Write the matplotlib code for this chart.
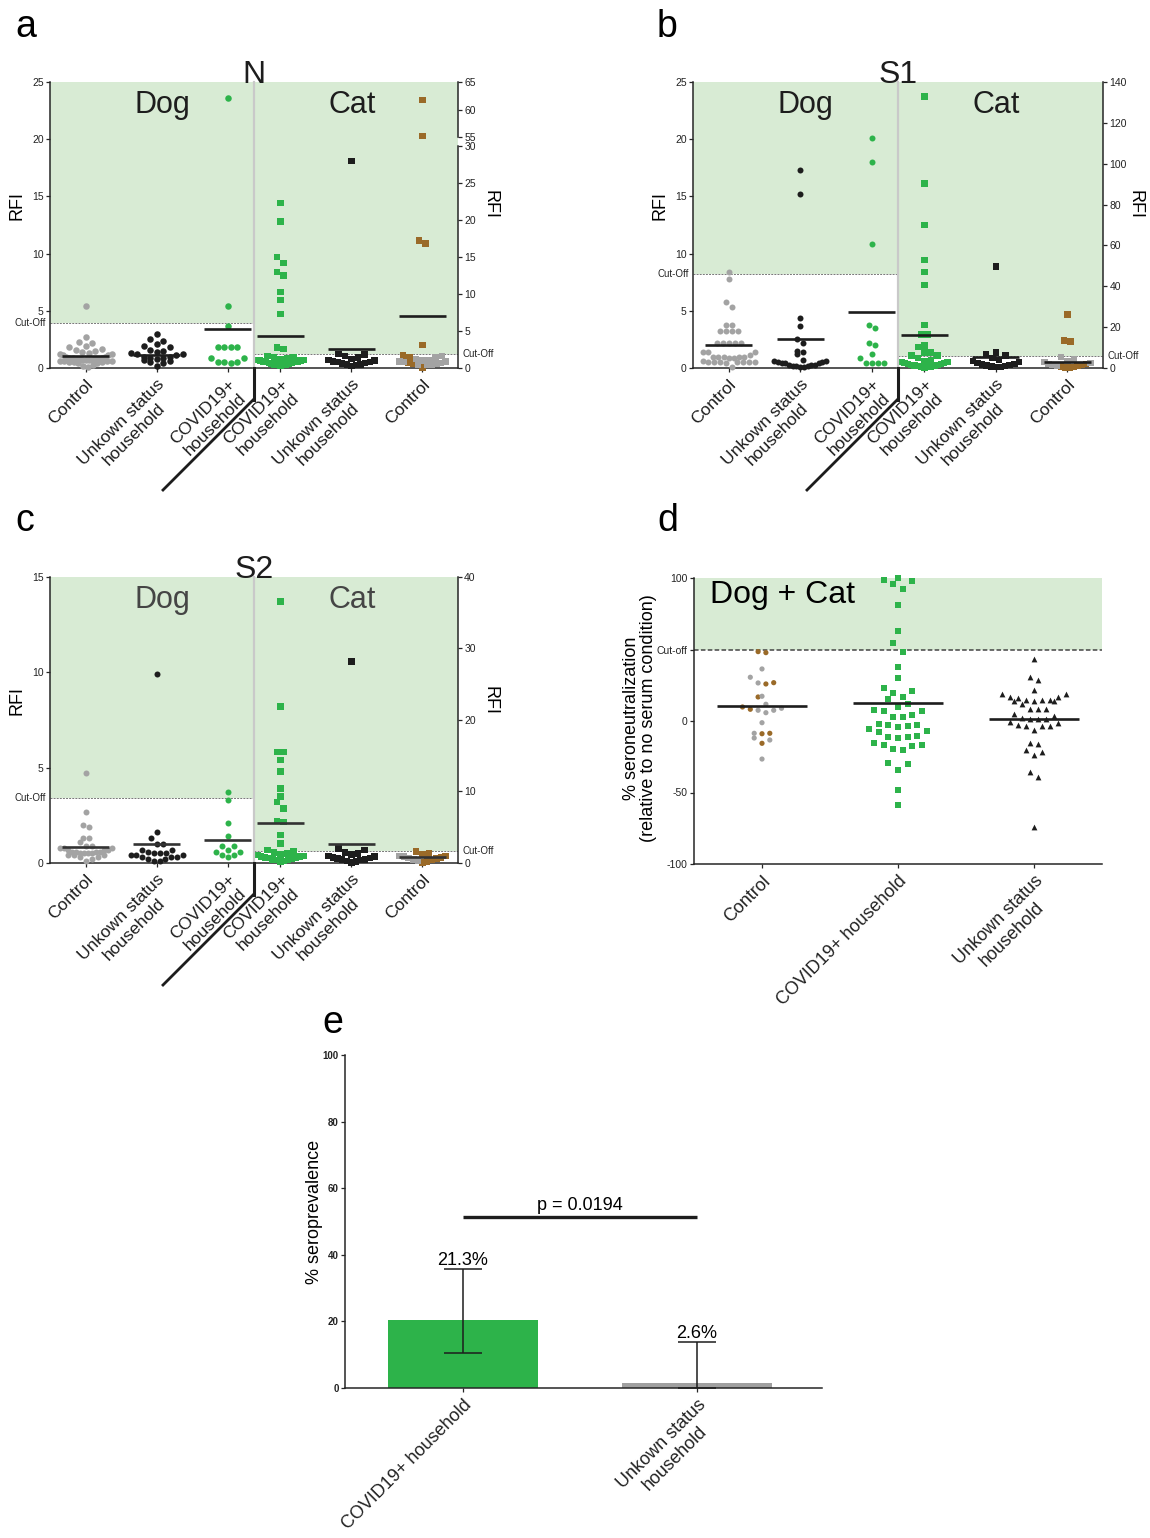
import numpy as np
import matplotlib.pyplot as plt
from matplotlib.lines import Line2D
from matplotlib.patches import Rectangle

plt.rcParams['font.family'] = ['Liberation Sans', 'DejaVu Sans']

W, H = 1150, 1538
fig = plt.figure(figsize=(W / 100, H / 100), dpi=100)

GREEN = '#2db34a'
BG = '#d8ebd4'
GRAY = '#a3a3a3'
BLACK = '#1d1d1d'
BROWN = '#9a6a28'
AXC = '#262626'

dog_labels = ['Control', 'Unkown status\nhousehold', 'COVID19+\nhousehold']
cat_labels = ['COVID19+\nhousehold', 'Unkown status\nhousehold', 'Control']

# ---- panel a : N ----
n_dog_ctrl = [5.4, 2.7, 2.3, 2.2, 1.9, 1.8, 1.7, 1.6, 1.5, 1.4, 1.3, 1.2, 1.2, 1.1, 1.1, 1.0, 1.0,
              0.9, 0.9, 0.9, 0.8, 0.8, 0.8, 0.8, 0.7, 0.7, 0.7, 0.7, 0.6, 0.6, 0.6, 0.6, 0.5, 0.5,
              0.5, 0.4, 0.4, 0.3, 0.2, 0.1]
n_dog_unk = [3.0, 2.5, 2.4, 2.1, 1.9, 1.8, 1.6, 1.5, 1.4, 1.3, 1.2, 1.2, 1.1, 1.0, 1.0, 0.9, 0.9,
             0.8, 0.7, 0.6, 0.5, 0.4, 0.2]
n_dog_cov = [23.6, 5.4, 3.7, 1.8, 1.8, 1.8, 1.8, 0.9, 0.9, 0.5, 0.5, 0.5, 0.4]
n_dog_means = [1.05, 1.14, 3.41]
n_dog_cut = 3.94
n_cat_cov = [22.3, 19.8, 15.0, 14.2, 13.0, 12.5, 10.3, 9.2, 7.3, 2.8, 2.6, 1.6, 1.5, 1.4, 1.3, 1.2,
             1.1, 1.1, 1.0, 1.0, 0.9, 0.9, 0.8, 0.8, 0.7, 0.7, 0.6, 0.6, 0.5, 0.5, 0.4, 0.4, 0.3]
n_cat_unk = [28.0, 1.9, 1.8, 1.6, 1.4, 1.2, 1.1, 1.0, 0.9, 0.8, 0.8, 0.7, 0.6, 0.5, 0.5, 0.4, 0.3]
n_cat_ctrl_brown = [61.7, 55.2, 17.2, 16.8, 3.1, 1.7, 1.5, 0.7, 0.6, 0.1]
n_cat_ctrl_gray = [1.6, 1.4, 1.2, 1.1, 1.0, 0.9, 0.9, 0.8, 0.7, 0.6, 0.5, 0.5, 0.4]
n_cat_means = [4.27, 2.56, 6.97]
n_cat_cut = 1.9

# ---- panel b : S1 ----
s1_dog_ctrl = [8.4, 7.8, 5.8, 5.3, 3.8, 3.8, 3.2, 3.2, 3.2, 3.2, 2.2, 2.2, 2.2, 2.2, 2.2, 1.4, 1.4,
               1.4, 1.1, 1.0, 1.0, 1.0, 1.0, 1.0, 0.9, 0.9, 0.6, 0.5, 0.5, 0.5, 0.5, 0.5, 0.5, 0.5,
               0.4, 0.1]
s1_dog_unk = [17.3, 15.2, 4.4, 3.7, 2.5, 2.2, 1.5, 1.4, 1.2, 0.7, 0.6, 0.6, 0.5, 0.5, 0.4, 0.4, 0.4,
              0.3, 0.3, 0.3, 0.2, 0.2, 0.2, 0.1, 0.1]
s1_dog_cov = [20.1, 18.0, 10.8, 3.8, 3.5, 2.2, 2.0, 1.2, 0.9, 0.4, 0.4, 0.4, 0.4]
s1_dog_means = [1.98, 2.5, 4.87]
s1_dog_cut = 8.2
s1_cat_cov = [133, 90.4, 69.9, 52.8, 46.9, 40.6, 21.0, 16.3, 16.3, 11.1, 10.3, 7.7, 7.7, 6.0, 6.0,
              5.0, 4.0, 3.5, 3.0, 3.0, 2.5, 2.5, 2.0, 2.0, 1.5, 1.5, 1.2, 1.0, 1.0, 0.8, 0.6, 0.5, 0.3]
s1_cat_unk = [49.7, 7.5, 6.5, 6.0, 5.0, 4.0, 3.5, 3.0, 2.5, 2.0, 1.8, 1.5, 1.2, 1.0, 0.8, 0.6, 0.4]
s1_cat_ctrl_brown = [26.1, 13.5, 13.0, 2.0, 1.5, 1.0, 0.8, 0.5, 0.3, 0.2]
s1_cat_ctrl_gray = [5.5, 4.5, 3.5, 3.0, 2.5, 2.0, 1.5, 1.0]
s1_cat_means = [16.3, 5.2, 2.77]
s1_cat_cut = 6.0

# ---- panel c : S2 ----
s2_dog_ctrl = [4.7, 2.7, 2.0, 1.9, 1.3, 1.3, 1.1, 0.9, 0.9, 0.8, 0.8, 0.8, 0.7, 0.7, 0.7, 0.6, 0.6,
               0.6, 0.6, 0.5, 0.5, 0.5, 0.5, 0.4, 0.4, 0.4, 0.3, 0.3, 0.2, 0.1]
s2_dog_unk = [9.9, 1.6, 1.3, 1.0, 1.0, 0.7, 0.7, 0.6, 0.5, 0.5, 0.5, 0.4, 0.4, 0.4, 0.3, 0.3, 0.3,
              0.2, 0.2, 0.1, 0.1]
s2_dog_cov = [3.7, 3.3, 2.1, 1.4, 0.9, 0.9, 0.7, 0.6, 0.6, 0.4, 0.3, 0.4]
s2_dog_means = [0.84, 0.98, 1.19]
s2_dog_cut = 3.39
s2_cat_cov = [36.6, 21.9, 15.5, 15.5, 14.4, 12.8, 10.4, 9.3, 8.5, 7.6, 5.9, 5.7, 3.9, 2.7, 1.8, 1.6,
              1.5, 1.3, 1.2, 1.1, 1.0, 0.9, 0.9, 0.8, 0.7, 0.7, 0.6, 0.5, 0.5, 0.4, 0.3, 0.2]
s2_cat_unk = [28.2, 2.0, 1.8, 1.5, 1.3, 1.2, 1.0, 0.9, 0.8, 0.7, 0.6, 0.5, 0.5, 0.4, 0.3, 0.2, 0.1]
s2_cat_ctrl_brown = [1.6, 1.3, 1.2, 1.0, 0.8, 0.6, 0.4, 0.2, 0.1]
s2_cat_ctrl_gray = [1.0, 0.9, 0.7, 0.5, 0.3]
s2_cat_means = [5.55, 2.6, 0.8]
s2_cat_cut = 1.72

# ---- panel d : seroneutralization ----
d_labels = ['Control', 'COVID19+ household', 'Unkown status\nhousehold']
d_ctrl_brown = [48.5, 47.8, 26.8, 25.9, 16.8, 9.8, 8.2, -8.6, -8.9, -15.6]
d_ctrl_gray = [36.4, 30.6, 26.6, 17.3, 11.7, 8.9, 7.5, 7.5, 5.8, -1.2, -8.6, -11.9, -13.3, -26.6]
d_cov = [100, 98.8, 97.7, 96.1, 92.4, 81.4, 62.8, 54.6, 48.3, 37.8, 30.1, 23.1, 21.2, 19.6, 17.0,
         15.4, 11.9, 9.8, 7.7, 7.0, 6.8, 4.2, 3.0, 2.6, -2.1, -3.0, -3.0, -3.3, -4.2, -5.8, -7.0,
         -7.7, -10.5, -11.0, -11.0, -11.7, -15.2, -16.6, -16.6, -17.3, -19.4, -20.1, -29.2, -29.9,
         -34.3, -48.3, -58.8]
d_unk = [43.6, 31.0, 28.5, 21.5, 18.9, 18.9, 16.8, 16.8, 15.9, 15.0, 14.5, 14.5, 14.0, 13.8, 13.8,
         11.9, 8.4, 8.4, 8.2, 5.1, 3.3, 2.1, 1.6, 1.6, 1.6, -0.9, -1.4, -2.8, -3.3, -3.3, -3.3, -6.5,
         -15.2, -15.9, -20.1, -21.5, -23.6, -35.5, -39.0, -74.2]
d_means = [10.3, 12.4, 1.6]
d_cut = 50

# ---- panel e : seroprevalence ----
e_labels = ['COVID19+ household', 'Unkown status\nhousehold']
e_values = [20.3, 1.6]
e_ci_low = [10.6, 0.0]
e_ci_high = [35.8, 13.8]
e_text = ['21.3%', '2.6%']
e_colors = [GREEN, '#a0a0a0']
e_pvalue = 'p = 0.0194'
e_bracket = 51.3


def px_axes(l, t, r, b):
    return fig.add_axes([l / W, 1 - b / H, (r - l) / W, (b - t) / H])


def ftext(x, y, s, **kw):
    return fig.text(x / W, 1 - y / H, s, **kw)


def fline(xs, ys, **kw):
    fig.add_artist(Line2D([x / W for x in xs], [1 - y / H for y in ys], **kw))


def row_offsets(ax, values, diam, maxw):
    # GraphPad-like column scatter: points binned in rows, spread from centre outwards
    pos = ax.get_position()
    x0, x1 = ax.get_xlim()
    y0, y1 = ax.get_ylim()
    kx = pos.width * W / (x1 - x0)
    ky = pos.height * H / (y1 - y0)
    order = list(np.argsort(values, kind='stable'))
    offs = np.zeros(len(values))
    while order:
        start = values[order[0]] * ky
        row = [i for i in order if values[i] * ky < start + diam]
        order = [i for i in order if i not in row]
        n = len(row)
        step = diam if n < 2 else min(diam, 2 * maxw / (n - 1))
        for k, i in enumerate(row):
            if n % 2:
                slot = ((k + 1) // 2) * (1 if k % 2 else -1)
            else:
                slot = (k // 2 + 0.5) * (1 if k % 2 == 0 else -1)
            offs[i] = slot * step / kx
    return offs


def plot_group(ax, x, values, colors, marker, diam, maxw, mean=None, mean_col=BLACK, gap=1.0):
    values = np.asarray(values, float)
    if len(values) == 0:
        return
    offs = row_offsets(ax, values, diam * gap, maxw)
    ax.scatter(x + offs, values, s=(diam * 0.72) ** 2, c=colors, marker=marker,
               linewidths=0, zorder=3, clip_on=False)
    if mean is not None:
        ax.hlines(mean, x - 0.33, x + 0.33, color=mean_col, lw=1.9, zorder=4)


def mixed(brown, gray):
    vals = list(brown) + list(gray)
    cols = [BROWN] * len(brown) + [GRAY] * len(gray)
    return vals, cols


def basic_style(ax, side='left'):
    for s in ['top', 'right', 'left']:
        ax.spines[s].set_visible(False)
    ax.spines['bottom'].set_color(AXC)
    ax.spines['bottom'].set_linewidth(1.1)
    if side is not None:
        ax.spines[side].set_visible(True)
        ax.spines[side].set_color(AXC)
        ax.spines[side].set_linewidth(1.1)
    ax.set_facecolor('none')
    ax.tick_params(axis='both', length=3, width=0.9, color=AXC, labelsize=7.5,
                   labelcolor='#222222', pad=1.5)
    ax.tick_params(axis='x', pad=3)


def rfi_panel(l, t, r, b, div, title, dog, cat, brk=None, txt=BLACK, mean_col=BLACK):
    # dog side
    axd = px_axes(l, t, div, b)
    axd.set_xlim(0.5, 3.37)
    axd.set_ylim(0, dog['lim'])
    basic_style(axd, 'left')
    axd.axhspan(dog['cut'], dog['lim'], color=BG, lw=0, zorder=0)
    axd.axhline(dog['cut'], color='#777777', lw=0.7, ls=(0, (2, 1.2)), zorder=1)
    axd.set_yticks(dog['ticks'])
    axd.set_xticks([1, 2, 3])
    axd.set_xticklabels(dog_labels, rotation=45, ha='right', va='top',
                        rotation_mode='anchor', fontsize=12.5, multialignment='center',
                        color=BLACK)
    axd.annotate('Cut-Off', xy=(0, dog['cut']), xycoords=('axes fraction', 'data'),
                 xytext=(-3, 0), textcoords='offset points', ha='right', va='center',
                 fontsize=7, color='#222222')
    dog_cols = [GRAY, BLACK, GREEN]
    for k in range(3):
        plot_group(axd, k + 1, dog['vals'][k], dog_cols[k], 'o', dog['diam'], 26,
                   dog['means'][k], mean_col)

    # cat side
    top = t if brk is None else brk['low_top']
    axc = px_axes(div, top, r, b)
    axc.set_xlim(0.63, 3.5)
    axc.set_ylim(0, cat['lim'])
    basic_style(axc, 'right')
    axc.yaxis.tick_right()
    axc.axhspan(cat['cut'], cat['lim'], color=BG, lw=0, zorder=0)
    axc.axhline(cat['cut'], color='#777777', lw=0.7, ls=(0, (2, 1.2)), zorder=1)
    axc.set_yticks(cat['ticks'])
    axc.set_xticks([1, 2, 3])
    axc.set_xticklabels(cat_labels, rotation=45, ha='right', va='top',
                        rotation_mode='anchor', fontsize=12.5, multialignment='center',
                        color=BLACK)
    axc.annotate('Cut-Off', xy=(1, cat['cut']), xycoords=('axes fraction', 'data'),
                 xytext=(3, 0), textcoords='offset points', ha='left', va='center',
                 fontsize=7, color='#222222')
    axu = None
    if brk is not None:
        axu = px_axes(div, t, r, brk['up_bottom'])
        axu.set_xlim(0.63, 3.5)
        axu.set_ylim(*brk['lim'])
        basic_style(axu, 'right')
        axu.spines['bottom'].set_visible(False)
        axu.yaxis.tick_right()
        axu.set_xticks([])
        axu.set_yticks(brk['ticks'])
        axu.axhspan(brk['lim'][0], brk['lim'][1], color=BG, lw=0, zorder=0)
        fig.add_artist(Rectangle((div / W, 1 - top / H), (r - div) / W,
                                 (top - brk['up_bottom']) / H, color=BG, lw=0, zorder=0))
    cat_cols = [GREEN, BLACK, None]
    for k in range(3):
        vals = np.asarray(cat['vals'][k], float)
        cols = cat['cols'][k] if cat_cols[k] is None else [cat_cols[k]] * len(vals)
        cols = np.asarray(cols)
        low = vals <= cat['lim']
        plot_group(axc, k + 1, vals[low], list(cols[low]), 's', cat['diam'], 23,
                   cat['means'][k], mean_col)
        if axu is not None and (~low).any():
            plot_group(axu, k + 1, vals[~low], list(cols[~low]), 's', cat['diam'], 23)

    # dividers between dog and cat
    fline([div, div], [t, b], color='#c9c9c9', lw=1.6, zorder=2)
    fline([div, div], [b, b + 32], color=BLACK, lw=2.2)
    fline([div, div - 91], [b + 31, b + 122], color=BLACK, lw=2.0)

    # texts
    ftext(div, t + 1, title, ha='center', va='baseline', fontsize=23, color=BLACK)
    ftext(l + 112, t + 31, 'Dog', ha='center', va='baseline', fontsize=22, color=txt)
    ftext(div + 98, t + 31, 'Cat', ha='center', va='baseline', fontsize=22, color=txt)
    ftext(l - 33, t + 123, 'RFI', ha='center', va='center', rotation=90, fontsize=13)
    ftext(r + 32, t + 123, 'RFI', ha='center', va='center', rotation=270, fontsize=13)


# panel a
v, c = mixed(n_cat_ctrl_brown, n_cat_ctrl_gray)
rfi_panel(50, 82, 458, 368, 254, 'N',
          dict(vals=[n_dog_ctrl, n_dog_unk, n_dog_cov], means=n_dog_means, cut=n_dog_cut,
               lim=25, ticks=[0, 5, 10, 15, 20, 25], diam=6.5),
          dict(vals=[n_cat_cov, n_cat_unk, v], cols=[None, None, c], means=n_cat_means,
               cut=n_cat_cut, lim=30, ticks=[0, 5, 10, 15, 20, 25, 30], diam=6.5),
          brk=dict(low_top=146, up_bottom=137, lim=(55, 65), ticks=[55, 60, 65]))

# panel b
v, c = mixed(s1_cat_ctrl_brown, s1_cat_ctrl_gray)
rfi_panel(693, 82, 1103, 368, 898, 'S1',
          dict(vals=[s1_dog_ctrl, s1_dog_unk, s1_dog_cov], means=s1_dog_means, cut=s1_dog_cut,
               lim=25, ticks=[0, 5, 10, 15, 20, 25], diam=6),
          dict(vals=[s1_cat_cov, s1_cat_unk, v], cols=[None, None, c], means=s1_cat_means,
               cut=s1_cat_cut, lim=140, ticks=list(range(0, 141, 20)), diam=6.5))

# panel c
v, c = mixed(s2_cat_ctrl_brown, s2_cat_ctrl_gray)
rfi_panel(50, 577, 458, 863, 254, 'S2',
          dict(vals=[s2_dog_ctrl, s2_dog_unk, s2_dog_cov], means=s2_dog_means, cut=s2_dog_cut,
               lim=15, ticks=[0, 5, 10, 15], diam=6),
          dict(vals=[s2_cat_cov, s2_cat_unk, v], cols=[None, None, c], means=s2_cat_means,
               cut=s2_cat_cut, lim=40, ticks=[0, 10, 20, 30, 40], diam=6.5),
          txt='#454545', mean_col='#333333')

# panel d
axn = px_axes(694, 578, 1102, 864)
axn.set_xlim(0.5, 3.5)
axn.set_ylim(-100, 100)
basic_style(axn, 'left')
axn.axhspan(d_cut, 100, color=BG, lw=0, zorder=0)
axn.axhline(d_cut, color='#444444', lw=1.1, ls=(0, (3, 1.5)), zorder=1)
axn.set_yticks([-100, -50, 0, d_cut, 100])
axn.set_yticklabels(['-100', '-50', '0', 'Cut-off', '100'])
axn.set_xticks([1, 2, 3])
axn.set_xticklabels(d_labels, rotation=45, ha='right', va='top', rotation_mode='anchor',
                    fontsize=13, multialignment='center')
v, c = mixed(d_ctrl_brown, d_ctrl_gray)
plot_group(axn, 1, v, c, 'o', 5.2, 40, d_means[0], gap=1.5)
plot_group(axn, 2, d_cov, GREEN, 's', 6.8, 62, d_means[1], gap=1.4)
plot_group(axn, 3, d_unk, BLACK, '^', 5.8, 64, d_means[2], gap=1.4)
axn.set_ylabel('% seroneutralization\n(relative to no serum condition)', fontsize=13,
               linespacing=1.05)
axn.yaxis.set_label_coords(-0.09, 0.51)
ftext(710, 603, 'Dog + Cat', ha='left', va='baseline', fontsize=23)

# panel e
axe = px_axes(345, 1055, 822, 1388)
axe.set_xlim(0.496, 2.534)
axe.set_ylim(0, 100)
basic_style(axe, 'left')
xs = np.arange(1, len(e_values) + 1)
axe.bar(xs, e_values, width=0.64, color=e_colors, zorder=2)
yerr = [np.array(e_values) - np.array(e_ci_low), np.array(e_ci_high) - np.array(e_values)]
axe.errorbar(xs, e_values, yerr=yerr, fmt='none', ecolor=BLACK, elinewidth=1.1,
             capsize=13.5, capthick=1.1, zorder=3)
for x, hi, s in zip(xs, e_ci_high, e_text):
    axe.annotate(s, xy=(x, hi), xytext=(0, 3), textcoords='offset points', ha='center',
                 va='baseline', fontsize=13)
axe.plot([1, 2], [e_bracket, e_bracket], color=BLACK, lw=2.4, solid_capstyle='butt')
axe.annotate(e_pvalue, xy=(1.5, e_bracket), xytext=(0, 5), textcoords='offset points',
             ha='center', va='baseline', fontsize=13)
axe.set_yticks(range(0, 101, 20))
for lab in axe.get_yticklabels():
    lab.set_fontweight('bold')
    lab.set_fontsize(7)
axe.set_xticks(xs)
axe.set_xticklabels(e_labels, rotation=45, ha='right', va='top', rotation_mode='anchor',
                    fontsize=13, multialignment='center')
axe.set_ylabel('% seroprevalence', fontsize=13)
axe.yaxis.set_label_coords(-0.046, 0.53)

# panel letters
for x, y, s in [(15, 37, 'a'), (657, 37, 'b'), (15, 531, 'c'), (657, 531, 'd'), (322, 1033, 'e')]:
    ftext(x, y, s, ha='left', va='baseline', fontsize=27)

fig.savefig('out.png', dpi=100)
